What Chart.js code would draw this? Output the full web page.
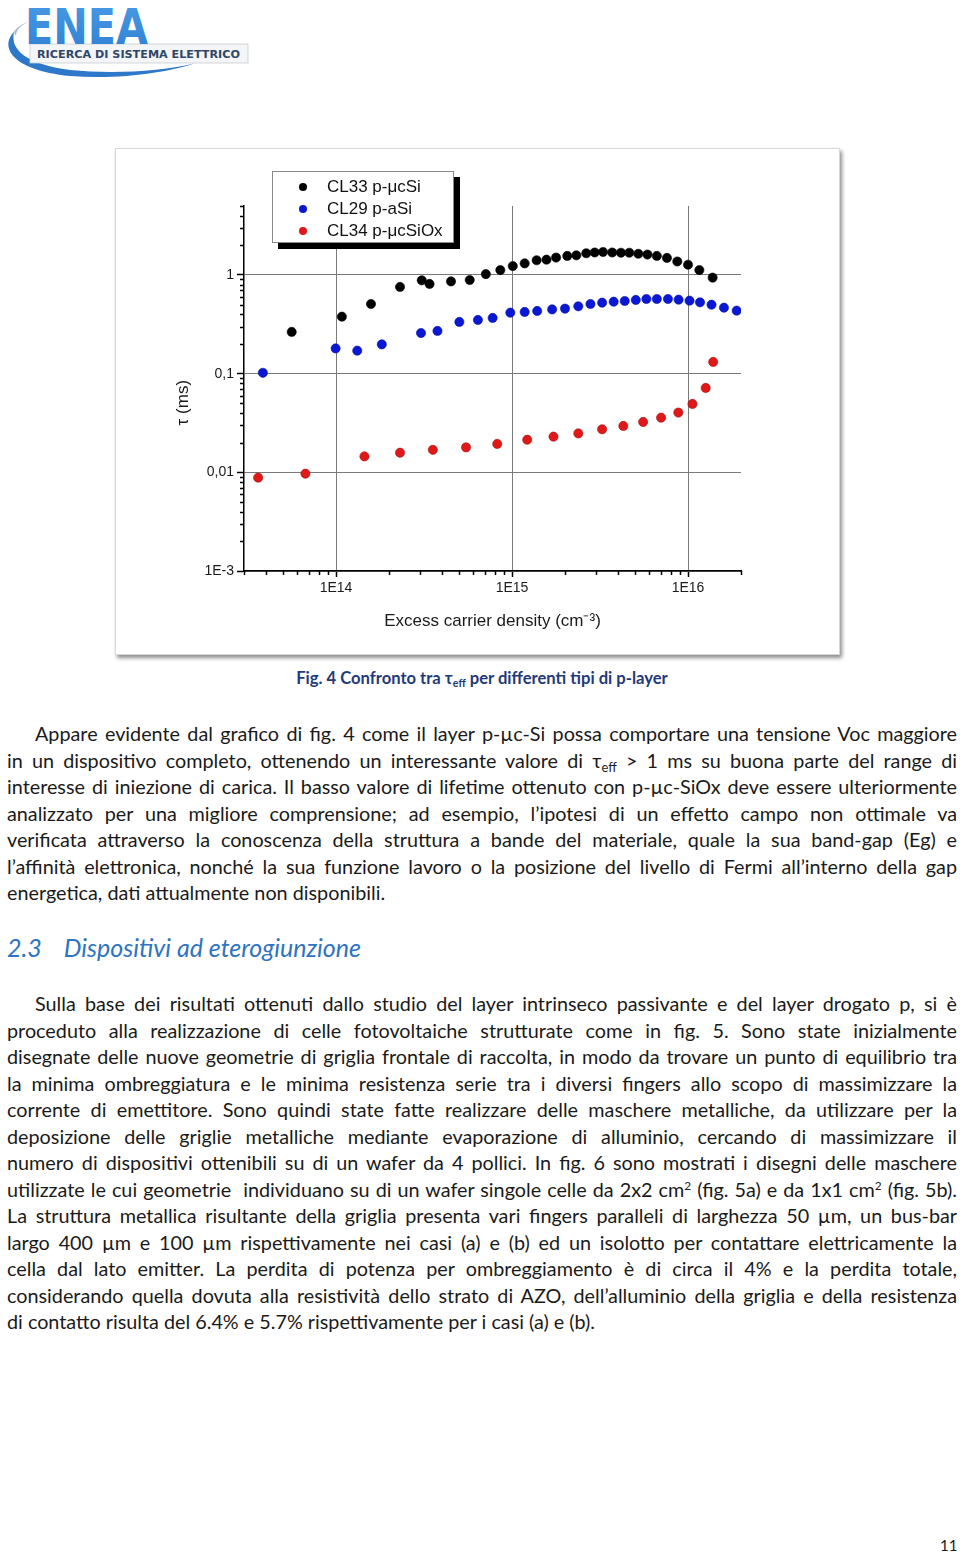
<!DOCTYPE html>
<html>
<head>
<meta charset="utf-8">
<script src="https://cdn.jsdelivr.net/npm/chart.js@4/dist/chart.umd.min.js"></script>
<style>
  html, body { margin: 0; padding: 0; background: #fff; }
  body { width: 960px; height: 1552px; position: relative; overflow: hidden; font-family: Lato, Carlito, Calibri, sans-serif; color: #1a1a1a; }
  .logo { position: absolute; left: 0; top: 0; }
  .figure { position: absolute; left: 115px; top: 148px; width: 725px; height: 507px; background: #fff;
            border: 1px solid #d8d8d8; box-shadow: 2px 3px 4px rgba(0,0,0,0.45); box-sizing: border-box; }
  .plot { position: absolute; left: 0; top: 0; width: 725px; height: 507px; }
  .legend { position: absolute; left: 156px; top: 22px; width: 182px; height: 72px; background: #fff;
            border: 1px solid #8a8a8a; box-shadow: 6px 6px 0 #000; box-sizing: border-box;
            font-family: "Liberation Sans", Arial, sans-serif; font-size: 17px; color: #111; }
  .legend .row { position: absolute; left: 0; height: 22px; line-height: 22px; }
  .legend .dot { position: absolute; left: 26px; top: 7px; width: 8px; height: 8px; border-radius: 50%; }
  .legend .lab { position: absolute; left: 54px; top: 0; white-space: nowrap; }
  .caption { position: absolute; left: 0; width: 964px; top: 668px; text-align: center; font-weight: bold;
             font-size: 16.6px; color: #1f3a78; }
  .caption sub, .ln sub { font-size: 0.65em; vertical-align: -0.3em; line-height: 0; }
  .ln sup { font-size: 0.6em; vertical-align: 0.6em; line-height: 0; }
  .ln { position: absolute; left: 7px; width: 950px; height: 26.5px; line-height: 26.5px; font-size: 19.8px;
        white-space: nowrap; text-align: justify; text-align-last: justify; }
  .ln.ind { padding-left: 28px; width: 922px; }
  .ln.last { text-align: left; text-align-last: left; }
  .heading { position: absolute; left: 7px; top: 932px; font-style: italic; font-size: 25px; color: #2e74c0; white-space: nowrap; }
  .pageno { position: absolute; left: 940px; top: 1536px; font-size: 15px; }
</style>
</head>
<body>

<svg class="logo" width="260" height="90" viewBox="0 0 260 90">
  <defs>
    <linearGradient id="eg" x1="0" y1="0" x2="0" y2="1">
      <stop offset="0" stop-color="#4a9be6"/>
      <stop offset="1" stop-color="#2f7fd2"/>
    </linearGradient>
  </defs>
  <path d="M 14 32 C 0 46, 10 70, 70 76 C 120 80, 170 72, 196 63 C 160 72, 110 74, 70 70 C 26 64, 10 50, 14 32 Z" fill="#2d78c8"/>
  <path d="M 14 32 C 16 28, 22 24, 28 22 C 20 26, 16 30, 16 36 Z" fill="#9fb8d4"/>
  <rect x="30" y="44" width="218" height="19" fill="#f4f5f7" stroke="#c9cdd3" stroke-width="0.8"/>
  <text x="25" y="44" font-family="DejaVu Sans, sans-serif" font-weight="bold" font-size="50" fill="url(#eg)"
        textLength="123" lengthAdjust="spacingAndGlyphs">ENEA</text>
  <text x="37" y="58" font-family="DejaVu Sans, sans-serif" font-weight="bold" font-size="10.5" fill="#2e4766"
        textLength="203" lengthAdjust="spacingAndGlyphs">RICERCA DI SISTEMA ELETTRICO</text>
</svg>

<div class="figure">
  <div class="plot"><canvas id="c"></canvas></div>
  <div class="legend">
    <div class="row" style="top:4px"><span class="dot" style="background:#000"></span><span class="lab">CL33 p-μcSi</span></div>
    <div class="row" style="top:26px"><span class="dot" style="background:#0a18d6"></span><span class="lab">CL29 p-aSi</span></div>
    <div class="row" style="top:48px"><span class="dot" style="background:#e01818"></span><span class="lab">CL34 p-μcSiOx</span></div>
  </div>
</div>

<div class="caption">Fig. 4 Confronto tra τ<sub>eff</sub> per differenti tipi di p-layer</div>

<div class="ln ind" style="top:720px">Appare evidente dal grafico di fig. 4 come il layer p-µc-Si possa comportare una tensione Voc maggiore</div>
<div class="ln" style="top:746.5px">in un dispositivo completo, ottenendo un interessante valore di τ<sub>eff</sub> &gt; 1 ms su buona parte del range di</div>
<div class="ln" style="top:773px">interesse di iniezione di carica. Il basso valore di lifetime ottenuto con p-µc-SiOx deve essere ulteriormente</div>
<div class="ln" style="top:799.5px">analizzato per una migliore comprensione; ad esempio, l’ipotesi di un effetto campo non ottimale va</div>
<div class="ln" style="top:826px">verificata attraverso la conoscenza della struttura a bande del materiale, quale la sua band-gap (Eg) e</div>
<div class="ln" style="top:852.5px">l’affinità elettronica, nonché la sua funzione lavoro o la posizione del livello di Fermi all’interno della gap</div>
<div class="ln last" style="top:879px">energetica, dati attualmente non disponibili.</div>

<div class="heading">2.3<span style="display:inline-block;width:22px"></span>Dispositivi ad eterogiunzione</div>

<div class="ln ind" style="top:990px">Sulla base dei risultati ottenuti dallo studio del layer intrinseco passivante e del layer drogato p, si è</div>
<div class="ln" style="top:1016.5px">proceduto alla realizzazione di celle fotovoltaiche strutturate come in fig. 5. Sono state inizialmente</div>
<div class="ln" style="top:1043px">disegnate delle nuove geometrie di griglia frontale di raccolta, in modo da trovare un punto di equilibrio tra</div>
<div class="ln" style="top:1069.5px">la minima ombreggiatura e le minima resistenza serie tra i diversi fingers allo scopo di massimizzare la</div>
<div class="ln" style="top:1096px">corrente di emettitore. Sono quindi state fatte realizzare delle maschere metalliche, da utilizzare per la</div>
<div class="ln" style="top:1122.5px">deposizione delle griglie metalliche mediante evaporazione di alluminio, cercando di massimizzare il</div>
<div class="ln" style="top:1149px">numero di dispositivi ottenibili su di un wafer da 4 pollici. In fig. 6 sono mostrati i disegni delle maschere</div>
<div class="ln" style="top:1175.5px">utilizzate le cui geometrie &nbsp;individuano su di un wafer singole celle da 2x2 cm<sup>2</sup> (fig. 5a) e da 1x1 cm<sup>2</sup> (fig. 5b).</div>
<div class="ln" style="top:1202px">La struttura metallica risultante della griglia presenta vari fingers paralleli di larghezza 50 µm, un bus-bar</div>
<div class="ln" style="top:1228.5px">largo 400 µm e 100 µm rispettivamente nei casi (a) e (b) ed un isolotto per contattare elettricamente la</div>
<div class="ln" style="top:1255px">cella dal lato emitter. La perdita di potenza per ombreggiamento è di circa il 4% e la perdita totale,</div>
<div class="ln" style="top:1281.5px">considerando quella dovuta alla resistività dello strato di AZO, dell’alluminio della griglia e della resistenza</div>
<div class="ln last" style="top:1308px">di contatto risulta del 6.4% e 5.7% rispettivamente per i casi (a) e (b).</div>

<div class="pageno">11</div>

<script>
// excess carrier density (cm^-3) and effective lifetime (ms)
const cl33X = [5.6e13, 1.08e14, 1.58e14, 2.31e14, 3.07e14, 3.4e14, 4.5e14, 5.75e14, 7.1e14, 8.58e14,
  1.01e15, 1.18e15, 1.38e15, 1.57e15, 1.78e15, 2.06e15, 2.32e15, 2.64e15, 2.95e15, 3.29e15,
  3.71e15, 4.16e15, 4.64e15, 5.22e15, 5.88e15, 6.65e15, 7.59e15, 8.69e15, 1.0e16, 1.16e16, 1.38e16];
const cl33Y = [0.265, 0.378, 0.508, 0.756, 0.882, 0.811, 0.861, 0.889, 1.02, 1.12,
  1.23, 1.31, 1.41, 1.43, 1.50, 1.56, 1.58, 1.66, 1.69, 1.71,
  1.69, 1.68, 1.68, 1.64, 1.61, 1.56, 1.49, 1.37, 1.27, 1.12, 0.94];

const cl29X = [3.84e13, 9.95e13, 1.32e14, 1.82e14, 3.04e14, 3.77e14, 5.02e14, 6.4e14, 7.76e14, 9.78e14,
  1.18e15, 1.39e15, 1.69e15, 2.0e15, 2.38e15, 2.79e15, 3.25e15, 3.78e15, 4.37e15, 5.05e15,
  5.8e15, 6.65e15, 7.69e15, 8.84e15, 1.02e16, 1.17e16, 1.36e16, 1.6e16, 1.89e16];
const cl29Y = [0.102, 0.180, 0.171, 0.198, 0.258, 0.271, 0.334, 0.350, 0.367, 0.415,
  0.422, 0.432, 0.448, 0.456, 0.481, 0.508, 0.524, 0.536, 0.545, 0.558,
  0.571, 0.571, 0.571, 0.562, 0.549, 0.528, 0.500, 0.466, 0.435];

const cl34X = [3.61e13, 6.7e13, 1.45e14, 2.31e14, 3.55e14, 5.48e14, 8.24e14, 1.22e15, 1.72e15,
  2.38e15, 3.25e15, 4.29e15, 5.56e15, 7.03e15, 8.81e15, 1.06e16, 1.26e16, 1.39e16];
const cl34Y = [0.00883, 0.0097, 0.0145, 0.0158, 0.0169, 0.0179, 0.0194, 0.0214, 0.0230,
  0.0248, 0.0273, 0.0295, 0.0324, 0.0358, 0.0403, 0.0493, 0.0716, 0.1315];

const xMajor = [1e14, 1e15, 1e16];
const xMajorLabels = ['1E14', '1E15', '1E16'];
const yMajor = [1e-3, 1e-2, 1e-1, 1];
const yMajorLabels = ['1E-3', '0,01', '0,1', '1'];

const toPoints = (xs, ys) => xs.map((x, i) => ({ x, y: ys[i] }));

// minor log ticks (2..9 of each decade) inside the axis range
const minorValues = (min, max) => {
  const out = [];
  for (let e = Math.floor(Math.log10(min)); e <= Math.ceil(Math.log10(max)); e++) {
    for (let m = 2; m <= 9; m++) {
      const v = m * Math.pow(10, e);
      if (v >= min && v <= max) out.push(v);
    }
  }
  return out;
};

const minorTicks = {
  id: 'minorTicks',
  afterDraw(chart) {
    const { ctx } = chart;
    const x = chart.scales.x;
    const y = chart.scales.y;
    ctx.save();
    ctx.strokeStyle = '#000';
    ctx.lineWidth = 1.5;
    ctx.beginPath();
    minorValues(x.min, x.max).forEach((v) => {
      const px = Math.round(x.getPixelForValue(v)) + 0.5;
      ctx.moveTo(px, x.top);
      ctx.lineTo(px, x.top + 4);
    });
    minorValues(y.min, y.max).forEach((v) => {
      const py = Math.round(y.getPixelForValue(v)) + 0.5;
      ctx.moveTo(y.right, py);
      ctx.lineTo(y.right - 4, py);
    });
    ctx.stroke();
    ctx.restore();
  },
};

const axisFont = { family: '"Liberation Sans", Arial, sans-serif', size: 14 };
const titleFont = { family: '"Liberation Sans", Arial, sans-serif', size: 17, lineHeight: 1 };

const dataset = (data, color, border) => ({
  data,
  showLine: false,
  pointRadius: 4.6,
  pointHoverRadius: 4.6,
  pointBackgroundColor: color,
  pointBorderColor: border,
  pointBorderWidth: 0.6,
});

new Chart(document.getElementById('c'), {
  type: 'scatter',
  data: {
    datasets: [
      dataset(toPoints(cl33X, cl33Y), '#000000', '#000000'),
      dataset(toPoints(cl29X, cl29Y), '#0a18d6', '#0610a0'),
      dataset(toPoints(cl34X, cl34Y), '#e01818', '#a80f0f'),
    ],
  },
  options: {
    responsive: true,
    maintainAspectRatio: false,
    animation: false,
    layout: { padding: { left: 0, right: 100, top: 57, bottom: 0 } },
    plugins: { legend: { display: false }, tooltip: { enabled: false } },
    scales: {
      x: {
        type: 'logarithmic',
        min: 3e13,
        max: 2e16,
        afterBuildTicks: (scale) => { scale.ticks = xMajor.map((value) => ({ value })); },
        afterFit: (scale) => { scale.height = 85; },
        border: { display: true, color: '#000', width: 1.5 },
        grid: { color: '#7a7a7a', lineWidth: 1, drawTicks: true, tickLength: 6, tickColor: '#000', tickWidth: 1.5 },
        ticks: {
          autoSkip: false, maxRotation: 0, padding: 3, color: '#1a1a1a', font: axisFont,
          callback: (v) => xMajorLabels[xMajor.indexOf(v)] ?? '',
        },
        title: { display: true, text: 'Excess carrier density (cm⁻³)', color: '#1a1a1a', font: titleFont,
          padding: { top: 0, bottom: 26.5 } },
      },
      y: {
        type: 'logarithmic',
        min: 1e-3,
        max: 5,
        afterBuildTicks: (scale) => { scale.ticks = yMajor.map((value) => ({ value })); },
        afterFit: (scale) => { scale.width = 128; },
        border: { display: true, color: '#000', width: 1.5 },
        grid: { color: '#7a7a7a', lineWidth: 1, drawTicks: true, tickLength: 7, tickColor: '#000', tickWidth: 1.5 },
        ticks: {
          autoSkip: false, padding: 3, color: '#1a1a1a', font: axisFont,
          callback: (v) => yMajorLabels[yMajor.indexOf(v)] ?? '',
        },
        // trailing no-break spaces nudge the rotated title down to where the original sits
        title: { display: true, text: 'τ (ms)\u00a0\u00a0\u00a0\u00a0\u00a0\u00a0', color: '#1a1a1a', font: titleFont,
          padding: { top: 58.5, bottom: 0 } },
      },
    },
  },
  plugins: [minorTicks],
});
</script>
</body>
</html>
